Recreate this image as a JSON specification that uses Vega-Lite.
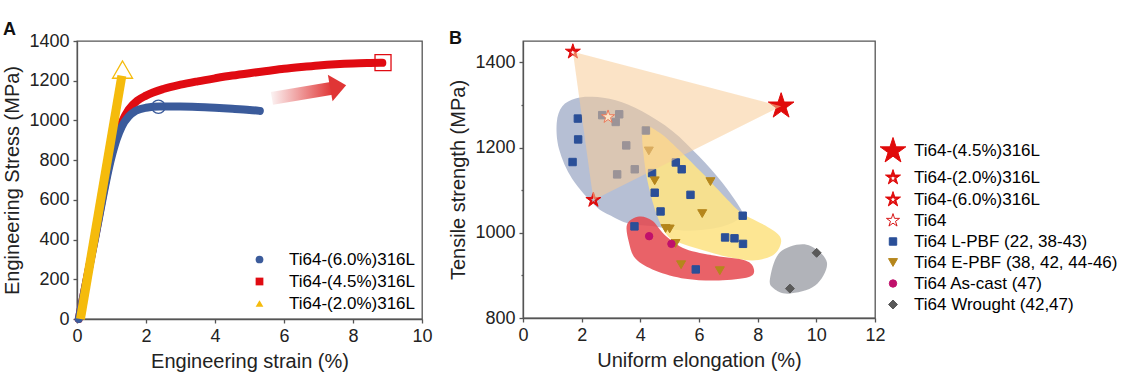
{
  "$schema": "https://vega.github.io/schema/vega-lite/v6.json",
  "background": "white",
  "padding": {"left": 2, "top": 20, "right": 0, "bottom": 0},
  "spacing": 15,
  "resolve": {"scale": {"color": "independent", "shape": "independent", "size": "independent", "fill": "independent", "stroke": "independent"}, "legend": {"color": "independent", "shape": "independent", "size": "independent", "fill": "independent", "stroke": "independent"}},
  "config": {
    "font": "Liberation Sans",
    "view": {"stroke": "#555", "strokeWidth": 1.3},
    "axis": {"grid": false, "labelFont": "Liberation Sans", "titleFont": "Liberation Sans", "labelFontSize": 18, "titleFontSize": 20, "titleFontWeight": "normal", "labelColor": "#222", "titleColor": "#222", "domainColor": "#555", "tickColor": "#555", "domainWidth": 1.3, "tickWidth": 1.3, "tickSize": 4, "labelPadding": 4, "titlePadding": 6, "labelOverlap": false, "labelFlush": false, "format": "d"},
    "axisY": {"labelOverlap": false},
    "axisX": {"labelOverlap": false},
    "axisQuantitative": {"labelOverlap": false},
    "legend": {"labelFont": "Liberation Sans"},
    "title": {"anchor": "start", "frame": "bounds", "fontSize": 18, "fontWeight": "bold", "font": "Liberation Sans", "offset": -7, "color": "#111"}
  },
  "datasets": {
    "curves": [
      {"series": "Ti64-(4.5%)316L", "strain": 0.05, "stress": 0},
      {"series": "Ti64-(4.5%)316L", "strain": 0.5, "stress": 390},
      {"series": "Ti64-(4.5%)316L", "strain": 1.0, "stress": 830},
      {"series": "Ti64-(4.5%)316L", "strain": 1.15, "stress": 920},
      {"series": "Ti64-(4.5%)316L", "strain": 1.3, "stress": 990},
      {"series": "Ti64-(4.5%)316L", "strain": 1.5, "stress": 1055},
      {"series": "Ti64-(4.5%)316L", "strain": 1.75, "stress": 1100},
      {"series": "Ti64-(4.5%)316L", "strain": 2.0, "stress": 1125},
      {"series": "Ti64-(4.5%)316L", "strain": 2.5, "stress": 1158},
      {"series": "Ti64-(4.5%)316L", "strain": 3.0, "stress": 1180},
      {"series": "Ti64-(4.5%)316L", "strain": 3.5, "stress": 1197},
      {"series": "Ti64-(4.5%)316L", "strain": 4.0, "stress": 1212},
      {"series": "Ti64-(4.5%)316L", "strain": 4.5, "stress": 1226},
      {"series": "Ti64-(4.5%)316L", "strain": 5.0, "stress": 1238},
      {"series": "Ti64-(4.5%)316L", "strain": 5.5, "stress": 1249},
      {"series": "Ti64-(4.5%)316L", "strain": 6.0, "stress": 1260},
      {"series": "Ti64-(4.5%)316L", "strain": 6.5, "stress": 1269},
      {"series": "Ti64-(4.5%)316L", "strain": 7.0, "stress": 1277},
      {"series": "Ti64-(4.5%)316L", "strain": 7.5, "stress": 1283},
      {"series": "Ti64-(4.5%)316L", "strain": 8.0, "stress": 1287},
      {"series": "Ti64-(4.5%)316L", "strain": 8.5, "stress": 1289},
      {"series": "Ti64-(4.5%)316L", "strain": 8.85, "stress": 1290},
      {"series": "Ti64-(6.0%)316L", "strain": 0.05, "stress": 0},
      {"series": "Ti64-(6.0%)316L", "strain": 0.5, "stress": 385},
      {"series": "Ti64-(6.0%)316L", "strain": 1.0, "stress": 815},
      {"series": "Ti64-(6.0%)316L", "strain": 1.15, "stress": 905},
      {"series": "Ti64-(6.0%)316L", "strain": 1.3, "stress": 970},
      {"series": "Ti64-(6.0%)316L", "strain": 1.5, "stress": 1020},
      {"series": "Ti64-(6.0%)316L", "strain": 1.7, "stress": 1048},
      {"series": "Ti64-(6.0%)316L", "strain": 2.0, "stress": 1064},
      {"series": "Ti64-(6.0%)316L", "strain": 2.4, "stress": 1070},
      {"series": "Ti64-(6.0%)316L", "strain": 3.0, "stress": 1070},
      {"series": "Ti64-(6.0%)316L", "strain": 3.5, "stress": 1068},
      {"series": "Ti64-(6.0%)316L", "strain": 4.0, "stress": 1064},
      {"series": "Ti64-(6.0%)316L", "strain": 4.5, "stress": 1059},
      {"series": "Ti64-(6.0%)316L", "strain": 5.0, "stress": 1053},
      {"series": "Ti64-(6.0%)316L", "strain": 5.3, "stress": 1048},
      {"series": "Ti64-(2.0%)316L", "strain": 0.1, "stress": 0},
      {"series": "Ti64-(2.0%)316L", "strain": 1.3, "stress": 1225}
    ],
    "markers": [
      {"series": "Ti64-(6.0%)316L", "strain": 2.36, "stress": 1069},
      {"series": "Ti64-(4.5%)316L", "strain": 8.87, "stress": 1291},
      {"series": "Ti64-(2.0%)316L", "strain": 1.32, "stress": 1256}
    ],
    "arrow": [
      {"strain": 5.65, "stress": 1111, "strain2": 7.42, "stress2": 1163}
    ],
    "arrowhead": [
      {"strain": 7.57, "stress": 1170}
    ],
    "points": [
      {"g": "Ti64 L-PBF", "e": 1.87, "s": 1268},
      {"g": "Ti64 L-PBF", "e": 1.88, "s": 1219},
      {"g": "Ti64 L-PBF", "e": 1.69, "s": 1166},
      {"g": "Ti64 L-PBF", "e": 2.70, "s": 1276},
      {"g": "Ti64 L-PBF", "e": 3.16, "s": 1260},
      {"g": "Ti64 L-PBF", "e": 3.28, "s": 1278},
      {"g": "Ti64 L-PBF", "e": 3.52, "s": 1205},
      {"g": "Ti64 L-PBF", "e": 3.21, "s": 1137},
      {"g": "Ti64 L-PBF", "e": 3.81, "s": 1149},
      {"g": "Ti64 L-PBF", "e": 4.19, "s": 1240},
      {"g": "Ti64 L-PBF", "e": 4.40, "s": 1140},
      {"g": "Ti64 L-PBF", "e": 4.49, "s": 1094},
      {"g": "Ti64 L-PBF", "e": 4.69, "s": 1050},
      {"g": "Ti64 L-PBF", "e": 5.21, "s": 1165},
      {"g": "Ti64 L-PBF", "e": 5.41, "s": 1149},
      {"g": "Ti64 L-PBF", "e": 5.71, "s": 1089},
      {"g": "Ti64 L-PBF", "e": 7.49, "s": 1040},
      {"g": "Ti64 L-PBF", "e": 6.89, "s": 989},
      {"g": "Ti64 L-PBF", "e": 7.21, "s": 987},
      {"g": "Ti64 L-PBF", "e": 7.50, "s": 974},
      {"g": "Ti64 L-PBF", "e": 3.80, "s": 1015},
      {"g": "Ti64 L-PBF", "e": 5.89, "s": 914},
      {"g": "Ti64 E-PBF", "e": 4.29, "s": 1192},
      {"g": "Ti64 E-PBF", "e": 4.49, "s": 1122},
      {"g": "Ti64 E-PBF", "e": 6.39, "s": 1120},
      {"g": "Ti64 E-PBF", "e": 6.11, "s": 1045},
      {"g": "Ti64 E-PBF", "e": 4.86, "s": 1010},
      {"g": "Ti64 E-PBF", "e": 5.0, "s": 1009},
      {"g": "Ti64 E-PBF", "e": 5.2, "s": 975},
      {"g": "Ti64 E-PBF", "e": 5.39, "s": 925},
      {"g": "Ti64 E-PBF", "e": 6.71, "s": 911},
      {"g": "Ti64 As-cast", "e": 4.30, "s": 992},
      {"g": "Ti64 As-cast", "e": 5.06, "s": 974},
      {"g": "Ti64 Wrought", "e": 10.01, "s": 953},
      {"g": "Ti64 Wrought", "e": 9.10, "s": 869},
      {"g": "Ti64", "e": 2.9, "s": 1272},
      {"g": "Ti64-(6.0%)316L", "e": 2.4, "s": 1077},
      {"g": "Ti64-(2.0%)316L", "e": 1.7, "s": 1425},
      {"g": "Ti64-(4.5%)316L", "e": 8.8, "s": 1297}
    ],
    "regions": [
      {"r": "peach", "i": 0, "x": 1.7, "y": 1425},
      {"r": "peach", "i": 1, "x": 8.8, "y": 1297},
      {"r": "peach", "i": 2, "x": 2.4, "y": 1077},
      {"r": "blue", "i": 0, "x": 1.15, "y": 1258},
      {"r": "blue", "i": 1, "x": 1.34, "y": 1297},
      {"r": "blue", "i": 2, "x": 1.79, "y": 1315},
      {"r": "blue", "i": 3, "x": 2.36, "y": 1319},
      {"r": "blue", "i": 4, "x": 3.16, "y": 1311},
      {"r": "blue", "i": 5, "x": 4.06, "y": 1285},
      {"r": "blue", "i": 6, "x": 5.09, "y": 1239},
      {"r": "blue", "i": 7, "x": 5.99, "y": 1180},
      {"r": "blue", "i": 8, "x": 6.79, "y": 1118},
      {"r": "blue", "i": 9, "x": 7.36, "y": 1063},
      {"r": "blue", "i": 10, "x": 7.45, "y": 1045},
      {"r": "blue", "i": 11, "x": 7.2, "y": 1025},
      {"r": "blue", "i": 12, "x": 6.5, "y": 1010},
      {"r": "blue", "i": 13, "x": 5.5, "y": 1005},
      {"r": "blue", "i": 14, "x": 4.5, "y": 1015},
      {"r": "blue", "i": 15, "x": 3.6, "y": 1022},
      {"r": "blue", "i": 16, "x": 3.0, "y": 1040},
      {"r": "blue", "i": 17, "x": 2.47, "y": 1063},
      {"r": "blue", "i": 18, "x": 1.68, "y": 1126},
      {"r": "blue", "i": 19, "x": 1.23, "y": 1196},
      {"r": "yellow", "i": 0, "x": 4.09, "y": 1246},
      {"r": "yellow", "i": 1, "x": 4.63, "y": 1236},
      {"r": "yellow", "i": 2, "x": 5.31, "y": 1195},
      {"r": "yellow", "i": 3, "x": 6.11, "y": 1140},
      {"r": "yellow", "i": 4, "x": 6.90, "y": 1083},
      {"r": "yellow", "i": 5, "x": 7.47, "y": 1046},
      {"r": "yellow", "i": 6, "x": 8.26, "y": 1017},
      {"r": "yellow", "i": 7, "x": 8.74, "y": 993},
      {"r": "yellow", "i": 8, "x": 8.77, "y": 970},
      {"r": "yellow", "i": 9, "x": 8.49, "y": 946},
      {"r": "yellow", "i": 10, "x": 7.82, "y": 935},
      {"r": "yellow", "i": 11, "x": 7.0, "y": 943},
      {"r": "yellow", "i": 12, "x": 6.2, "y": 958},
      {"r": "yellow", "i": 13, "x": 5.43, "y": 974},
      {"r": "yellow", "i": 14, "x": 4.97, "y": 990},
      {"r": "yellow", "i": 15, "x": 4.63, "y": 1030},
      {"r": "yellow", "i": 16, "x": 4.35, "y": 1090},
      {"r": "yellow", "i": 17, "x": 4.15, "y": 1160},
      {"r": "red", "i": 0, "x": 3.55, "y": 1020},
      {"r": "red", "i": 1, "x": 3.96, "y": 1038},
      {"r": "red", "i": 2, "x": 4.41, "y": 1028},
      {"r": "red", "i": 3, "x": 4.86, "y": 993},
      {"r": "red", "i": 4, "x": 5.54, "y": 962},
      {"r": "red", "i": 5, "x": 6.56, "y": 946},
      {"r": "red", "i": 6, "x": 7.58, "y": 935},
      {"r": "red", "i": 7, "x": 7.87, "y": 915},
      {"r": "red", "i": 8, "x": 7.70, "y": 896},
      {"r": "red", "i": 9, "x": 6.68, "y": 888},
      {"r": "red", "i": 10, "x": 5.54, "y": 892},
      {"r": "red", "i": 11, "x": 4.52, "y": 911},
      {"r": "red", "i": 12, "x": 3.84, "y": 939},
      {"r": "red", "i": 13, "x": 3.61, "y": 978},
      {"r": "gray", "i": 0, "x": 8.42, "y": 892},
      {"r": "gray", "i": 1, "x": 8.76, "y": 954},
      {"r": "gray", "i": 2, "x": 9.67, "y": 972},
      {"r": "gray", "i": 3, "x": 10.36, "y": 931},
      {"r": "gray", "i": 4, "x": 9.96, "y": 876},
      {"r": "gray", "i": 5, "x": 9.06, "y": 857},
      {"r": "gray", "i": 6, "x": 8.55, "y": 869}
    ]
  },
  "hconcat": [
    {
      "title": {"text": "A"},
      "width": 345,
      "height": 278,
      "encoding": {
        "x": {"field": "strain", "type": "quantitative", "scale": {"domain": [0, 10], "nice": false}, "axis": {"values": [0, 2, 4, 6, 8, 10], "labelOverlap": false, "title": "Engineering strain (%)"}},
        "y": {"field": "stress", "type": "quantitative", "scale": {"domain": [0, 1400], "nice": false}, "axis": {"values": [0, 200, 400, 600, 800, 1000, 1200, 1400], "labelOverlap": false, "labelBound": false, "title": "Engineering Stress (MPa)"}}
      },
      "layer": [
        {
          "data": {"name": "curves"},
          "transform": [{"filter": "datum.series == 'Ti64-(4.5%)316L'"}],
          "mark": {"type": "line", "color": "#e00b12", "strokeWidth": 8, "interpolate": "monotone", "strokeCap": "round"}
        },
        {
          "data": {"name": "curves"},
          "transform": [{"filter": "datum.series == 'Ti64-(6.0%)316L'"}],
          "mark": {"type": "line", "color": "#3b5b9b", "strokeWidth": 8, "interpolate": "monotone", "strokeCap": "round"}
        },
        {
          "data": {"name": "curves"},
          "transform": [{"filter": "datum.series == 'Ti64-(2.0%)316L'"}],
          "mark": {"type": "line", "color": "#f5bb0c", "strokeWidth": 9, "strokeCap": "butt"}
        },
        {
          "data": {"name": "markers"},
          "transform": [{"filter": "datum.series == 'Ti64-(6.0%)316L'"}],
          "mark": {"type": "point", "filled": false, "strokeWidth": 1.3, "opacity": 1, "color": "#3b5b9b", "shape": "circle", "size": 177}
        },
        {
          "data": {"name": "markers"},
          "transform": [{"filter": "datum.series == 'Ti64-(4.5%)316L'"}],
          "mark": {"type": "point", "filled": false, "strokeWidth": 1.3, "opacity": 1, "color": "#e00b12", "shape": "square", "size": 256}
        },
        {
          "data": {"name": "markers"},
          "transform": [{"filter": "datum.series == 'Ti64-(2.0%)316L'"}],
          "mark": {"type": "point", "filled": false, "strokeWidth": 1.3, "opacity": 1, "color": "#f5bb0c", "shape": "triangle-up", "size": 400}
        },
        {
          "data": {"name": "arrow"},
          "mark": {"type": "rule", "strokeWidth": 13, "strokeCap": "butt", "stroke": {"gradient": "linear", "x1": 0, "y1": 0, "x2": 1, "y2": 0, "stops": [{"offset": 0, "color": "#fbf0f0"}, {"offset": 1, "color": "#e03535"}]}},
          "encoding": {
            "x2": {"field": "strain2"},
            "y2": {"field": "stress2"}
          }
        },
        {
          "data": {"name": "arrowhead"},
          "mark": {"type": "point", "filled": true, "opacity": 1, "color": "#e03535", "shape": "M-0.6,-1L0.6,0L-0.6,1Z", "size": 729, "angle": 350}
        },
        {
          "data": {"name": "markers"},
          "mark": {"type": "point", "filled": true, "opacity": 0},
          "encoding": {
            "color": {"field": "series", "type": "nominal", "scale": {"domain": ["Ti64-(6.0%)316L", "Ti64-(4.5%)316L", "Ti64-(2.0%)316L"], "range": ["#3b5b9b", "#e00b12", "#f5bb0c"]},
              "legend": {"orient": "bottom-right", "title": null, "offset": 7, "padding": 0, "labelFontSize": 17, "symbolSize": 60, "symbolOpacity": 1, "labelOffset": 21, "rowPadding": 4,
              "encode": {"labels": {"fill": {"condition": [{"test": "datum.value == 'Ti64-(6.0%)316L'", "value": "#3d5d9c"}, {"test": "datum.value == 'Ti64-(4.5%)316L'", "value": "#dd1a1a"}], "value": "#f0c419"}}}}},
            "shape": {"field": "series", "type": "nominal", "scale": {"domain": ["Ti64-(6.0%)316L", "Ti64-(4.5%)316L", "Ti64-(2.0%)316L"], "range": ["circle", "square", "triangle-up"]}}
          }
        }
      ]
    },
    {
      "title": {"text": "B"},
      "width": 352,
      "height": 277,
      "layer": [
        {
          "data": {"name": "regions"},
          "transform": [{"filter": "datum.r == 'blue'"}],
          "mark": {"type": "line", "interpolate": "cardinal-closed", "fill": "#8695b8", "fillOpacity": 0.6, "strokeOpacity": 0},
          "encoding": {
            "x": {"field": "x", "type": "quantitative", "scale": {"domain": [0, 12], "nice": false}, "axis": {"values": [0, 1, 2, 3, 4, 5, 6, 7, 8, 9, 10, 11, 12], "labelOverlap": false, "labelExpr": "datum.value % 2 == 0 ? datum.label : ''", "tickSize": {"condition": {"test": "datum.value % 2 != 0", "value": 2}, "value": 4}, "title": "Uniform elongation (%)"}},
            "y": {"field": "y", "type": "quantitative", "scale": {"domain": [800, 1450], "nice": false, "zero": false}, "axis": {"values": [800, 900, 1000, 1100, 1200, 1300, 1400], "labelOverlap": false, "labelExpr": "datum.value % 200 == 0 ? datum.label : ''", "tickSize": {"condition": {"test": "datum.value % 200 != 0", "value": 2}, "value": 4}, "title": "Tensile strength (MPa)"}},
            "order": {"field": "i", "type": "quantitative"}
          }
        },
        {
          "data": {"name": "regions"},
          "transform": [{"filter": "datum.r == 'yellow'"}],
          "mark": {"type": "line", "interpolate": "cardinal-closed", "fill": "#fde387", "fillOpacity": 0.9, "strokeOpacity": 0},
          "encoding": {
            "x": {"field": "x", "type": "quantitative"},
            "y": {"field": "y", "type": "quantitative"},
            "order": {"field": "i", "type": "quantitative"}
          }
        },
        {
          "data": {"name": "regions"},
          "transform": [{"filter": "datum.r == 'red'"}],
          "mark": {"type": "line", "interpolate": "cardinal-closed", "fill": "#e5474e", "fillOpacity": 0.85, "strokeOpacity": 0},
          "encoding": {
            "x": {"field": "x", "type": "quantitative"},
            "y": {"field": "y", "type": "quantitative"},
            "order": {"field": "i", "type": "quantitative"}
          }
        },
        {
          "data": {"name": "regions"},
          "transform": [{"filter": "datum.r == 'gray'"}],
          "mark": {"type": "line", "interpolate": "cardinal-closed", "fill": "#9ea0a7", "fillOpacity": 0.8, "strokeOpacity": 0},
          "encoding": {
            "x": {"field": "x", "type": "quantitative"},
            "y": {"field": "y", "type": "quantitative"},
            "order": {"field": "i", "type": "quantitative"}
          }
        },
        {
          "data": {"name": "points"},
          "mark": {"type": "point", "filled": true, "opacity": 1, "strokeWidth": 1},
          "encoding": {
            "x": {"field": "e", "type": "quantitative"},
            "y": {"field": "s", "type": "quantitative"},
            "fill": {"field": "g", "type": "nominal",
              "scale": {"domain": ["Ti64-(4.5%)316L", "Ti64-(2.0%)316L", "Ti64-(6.0%)316L", "Ti64", "Ti64 L-PBF", "Ti64 E-PBF", "Ti64 As-cast", "Ti64 Wrought"], "range": ["#e00a0a", "#e00a0a", "#e00a0a", "#ffffff", "#2a4f98", "#b5861c", "#c0106b", "#595959"]},
              "legend": {"orient": "none", "legendX": 356, "legendY": 96, "title": null, "padding": 0, "labelLimit": 400, "labelOffset": 7, "rowPadding": 3, "symbolStrokeWidth": 1, "symbolOpacity": 1, "labelFontSize": 17,
                "labelExpr": "datum.value == 'Ti64 L-PBF' ? 'Ti64 L-PBF (22, 38-43)' : datum.value == 'Ti64 E-PBF' ? 'Ti64 E-PBF (38, 42, 44-46)' : datum.value == 'Ti64 As-cast' ? 'Ti64 As-cast (47)' : datum.value == 'Ti64 Wrought' ? 'Ti64 Wrought (42,47)' : datum.label",
                "encode": {"labels": {
                  "fill": {"condition": [{"test": "datum.value == 'Ti64 L-PBF'", "value": "#2c4f95"}, {"test": "datum.value == 'Ti64 E-PBF'", "value": "#c49b32"}, {"test": "datum.value == 'Ti64 As-cast'", "value": "#a4176a"}, {"test": "datum.value == 'Ti64 Wrought'", "value": "#5f5f5f"}], "value": "#d10f18"},
                  "fontSize": {"condition": [{"test": "datum.value == 'Ti64' || datum.value == 'Ti64-(4.5%)316L' || datum.value == 'Ti64-(2.0%)316L' || datum.value == 'Ti64-(6.0%)316L'", "value": 19}], "value": 17}
                }}}},
            "stroke": {"field": "g", "type": "nominal",
              "scale": {"domain": ["Ti64-(4.5%)316L", "Ti64-(2.0%)316L", "Ti64-(6.0%)316L", "Ti64", "Ti64 L-PBF", "Ti64 E-PBF", "Ti64 As-cast", "Ti64 Wrought"], "range": ["#e00a0a", "#e00a0a", "#e00a0a", "#d81818", "#2a4f98", "#b5861c", "#c0106b", "#595959"]}},
            "shape": {"field": "g", "type": "nominal",
              "scale": {"domain": ["Ti64-(4.5%)316L", "Ti64-(2.0%)316L", "Ti64-(6.0%)316L", "Ti64", "Ti64 L-PBF", "Ti64 E-PBF", "Ti64 As-cast", "Ti64 Wrought"], "range": [
                "M0,-1L0.2245,-0.309L0.9511,-0.309L0.3633,0.118L0.5878,0.809L0,0.382L-0.5878,0.809L-0.3633,0.118L-0.9511,-0.309L-0.2245,-0.309Z",
                "M0,-1L0.2245,-0.309L0.9511,-0.309L0.3633,0.118L0.5878,0.809L0,0.382L-0.5878,0.809L-0.3633,0.118L-0.9511,-0.309L-0.2245,-0.309ZM0,-0.4L-0.1123,-0.0545L-0.4756,-0.0545L-0.1817,0.159L-0.2939,0.5045L0,0.291L0.2939,0.5045L0.1817,0.159L0.4756,-0.0545L0.1123,-0.0545Z",
                "M0,-1L0.2245,-0.309L0.9511,-0.309L0.3633,0.118L0.5878,0.809L0,0.382L-0.5878,0.809L-0.3633,0.118L-0.9511,-0.309L-0.2245,-0.309ZM0,-0.5L-0.1123,-0.1545L-0.4756,-0.1545L-0.1817,0.059L-0.2939,0.4045L0,0.191L0.2939,0.4045L0.1817,0.059L0.4756,-0.1545L0.1123,-0.1545Z",
                "M0,-1L0.2245,-0.309L0.9511,-0.309L0.3633,0.118L0.5878,0.809L0,0.382L-0.5878,0.809L-0.3633,0.118L-0.9511,-0.309L-0.2245,-0.309Z",
                "square", "triangle-down", "circle", "diamond"]}},
            "size": {"field": "g", "type": "nominal",
              "scale": {"type": "ordinal", "domain": ["Ti64-(4.5%)316L", "Ti64-(2.0%)316L", "Ti64-(6.0%)316L", "Ti64", "Ti64 L-PBF", "Ti64 E-PBF", "Ti64 As-cast", "Ti64 Wrought"], "range": [729, 250, 250, 190, 55, 81, 55, 81]}}
          }
        },
        {
          "data": {"name": "regions"},
          "transform": [{"filter": "datum.r == 'peach'"}],
          "mark": {"type": "line", "interpolate": "linear-closed", "fill": "#f8cc98", "fillOpacity": 0.55, "strokeOpacity": 0},
          "encoding": {
            "x": {"field": "x", "type": "quantitative"},
            "y": {"field": "y", "type": "quantitative"},
            "order": {"field": "i", "type": "quantitative"}
          }
        }
      ]
    }
  ]
}
